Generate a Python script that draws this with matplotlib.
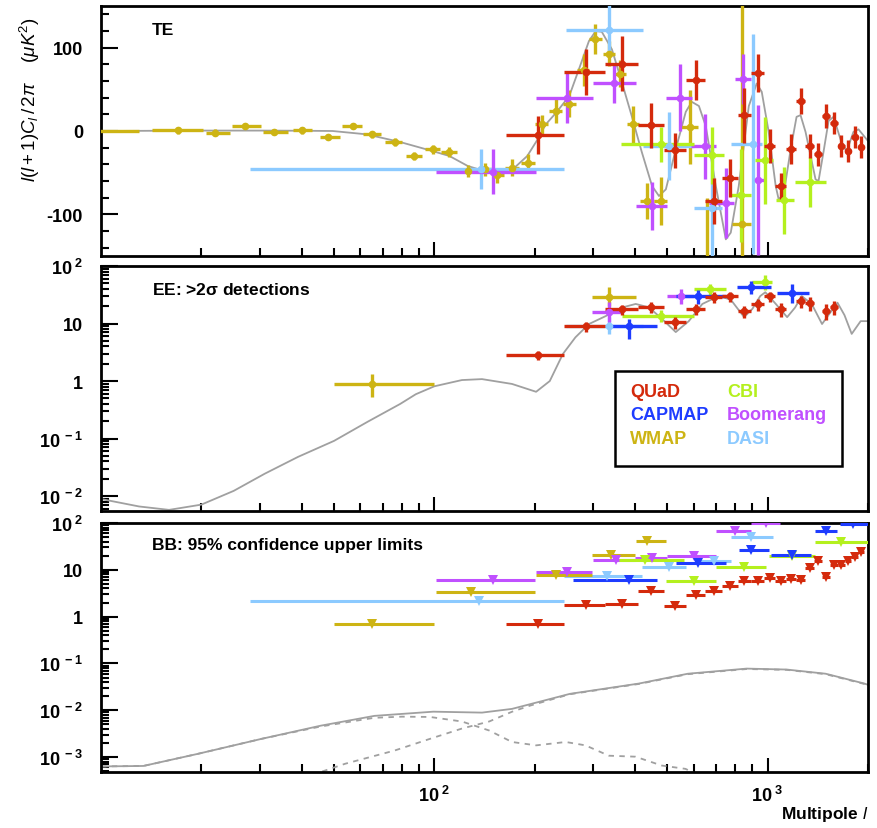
import numpy as np
import matplotlib
matplotlib.use("Agg")
import matplotlib.pyplot as plt
from matplotlib.ticker import FixedLocator, FixedFormatter, NullFormatter
from matplotlib.patches import Rectangle

plt.rcParams['font.family'] = ['Liberation Sans', 'DejaVu Sans']
plt.rcParams['mathtext.fontset'] = 'custom'
plt.rcParams['mathtext.rm'] = 'Liberation Sans'
plt.rcParams['mathtext.it'] = 'Liberation Sans:italic'
plt.rcParams['mathtext.bf'] = 'Liberation Sans:bold'

# ---------------------------------------------------------------- colours
C_QUAD = '#d42a0c'
C_CAPMAP = '#1e3cff'
C_WMAP = '#cdb414'
C_CBI = '#b4f01e'
C_BOOM = '#c050ff'
C_DASI = '#8ccaff'
C_THEORY = '#a0a0a0'

# ---------------------------------------------------------------- QUaD bins
quad_l = [204, 285, 366, 447, 528, 609, 690, 771, 852, 933, 1014, 1095, 1176,
          1257, 1338, 1419, 1500, 1581, 1662, 1743, 1824, 1905]
quad_lo = [164, 245, 326, 407, 488, 569, 650, 731, 812, 893, 974, 1055, 1136,
           1217, 1298, 1379, 1460, 1541, 1622, 1703, 1784, 1865]
quad_hi = [245, 326, 407, 488, 569, 650, 731, 812, 893, 974, 1055, 1136, 1217,
           1298, 1379, 1460, 1541, 1622, 1703, 1784, 1865, 1946]

# ---------------------------------------------------------------- TE data
te_quad = [-5, 71, 81, 7, -23, 61, -84, -56, 19, 70, -18, -66, -22, 36, -18,
           -28, 18, 10, -18, -24, -7, -19]
te_quad_err = [23, 28, 33, 27, 21, 24, 28, 23, 33, 23, 20, 16, 18, 16, 14, 14,
               14, 13, 13, 13, 13, 13]

te_wmap_l = [8, 17, 22, 27, 33, 40, 48, 57, 65, 76, 87, 99, 111, 126, 142, 154,
             171, 191, 210, 232, 254, 281, 303, 334, 361, 394, 434, 478, 583,
             658, 836]
te_wmap_lo = [2, 14.2, 20.7, 24.8, 30.6, 37.6, 45.3, 53, 61, 71, 82, 94, 105,
              119, 135, 149, 163, 182, 201, 221, 243, 268, 292, 320, 348, 378,
              415, 457, 545, 620, 780]
te_wmap_hi = [13, 20.2, 24.3, 30.3, 36.3, 43.1, 52, 60.7, 69, 80, 92, 104, 117,
              133, 149, 162, 180, 200, 220, 242, 266, 292, 318, 348, 376, 412,
              455, 500, 620, 700, 890]
te_wmap = [0, 1, -2, 6, -1, 1, -7, 6, -4, -13, -30, -22, -25, -48, -46, -53,
           -44, -38, 8, 24, 33, 73, 111, 93, 69, 8, -84, -84, 5, -190, -112]
te_wmap_err = [4, 4, 4, 4, 4, 4, 4, 4, 4, 5, 5, 5, 6, 7, 8, 9, 10, 10, 11, 14,
               16, 19, 18, 15, 16, 22, 22, 29, 44, 110, 270]

te_boom_l = [150, 250, 347, 450, 545, 648, 750, 845, 935]
te_boom_lo = [101, 202, 300, 402, 497, 590, 665, 800, 915]
te_boom_hi = [202, 300, 402, 500, 592, 700, 790, 890, 990]
te_boom = [-49, 40, 58, -90, 40, -18, -86, 62, -59]
te_boom_err = [27, 30, 24, 29, 40, 39, 42, 30, 90]

te_dasi_l = [138, 334, 505, 680, 905]
te_dasi_lo = [28, 248, 422, 600, 775]
te_dasi_hi = [245, 422, 600, 730, 960]
te_dasi = [-46, 121, -18, -92, -16]
te_dasi_err = [24, 30, 41, 75, 132]

te_cbi_l = [480, 680, 830, 980, 1120, 1340]
te_cbi_lo = [363, 600, 770, 915, 1060, 1210]
te_cbi_hi = [600, 740, 890, 1040, 1200, 1500]
te_cbi = [-16, -29, -77, -35, -83, -61]
te_cbi_err = [21, 34, 56, 52, 40, 30]

# TE model spectrum
te_th_l = [10, 20, 30, 40, 49.5, 62.6, 78.6, 98.6, 111, 126, 141, 156, 174,
           190, 202, 216, 232, 254, 272, 291, 305, 318, 341, 365, 391, 419,
           450, 472, 495, 530, 568, 592, 622, 652, 699, 749, 775, 819, 878,
           927, 960, 1007, 1057, 1079, 1117, 1172, 1221, 1255, 1299, 1392,
           1421, 1471, 1523, 1576, 1654, 1724, 1809, 1873, 2000]
te_th = [0, 0.5, 0.5, 0.3, 0, -4, -13, -24, -30, -42, -48, -48.5, -44, -30,
         -13, 8, 22, 42, 75, 108, 120, 119, 98, 59, 18, -25, -66, -78, -70,
         -22, 23, 35, 30, 6, -66, -130, -122, -66, 30, 57, 47, -1, -66, -82,
         -76, -22, 17, 19, -1, -58, -60, -25, 12, 17, -10, -25, -1, 2, -12]

# ---------------------------------------------------------------- EE data
ee_quad_l = [204, 285, 366, 447, 528, 609, 690, 771, 852, 933, 1014, 1095,
             1257, 1338, 1500, 1581]
ee_quad_lo = [164, 245, 326, 407, 488, 569, 650, 731, 812, 893, 974, 1055,
              1217, 1298, 1460, 1541]
ee_quad_hi = [245, 326, 407, 488, 569, 650, 731, 812, 893, 974, 1055, 1136,
              1298, 1379, 1541, 1622]
ee_quad = [2.8, 9.0, 17.8, 19.2, 10.5, 17.8, 28.7, 30, 16.5, 21.8, 30, 17.8,
           24.5, 22.5, 16.5, 19.2]
ee_quad_elo = [0.5, 1.8, 3.5, 4, 2.5, 4, 6, 6, 4, 5, 6, 5, 6, 6, 5, 5]
ee_quad_ehi = [0.5, 1.8, 3.5, 4, 2.5, 4, 6, 6, 4, 5, 6, 5, 6, 6, 5, 5]

ee_wmap_l = [65, 334]
ee_wmap_lo = [50, 297]
ee_wmap_hi = [100, 402]
ee_wmap = [0.9, 29]
ee_wmap_elo = [0.37, 9]
ee_wmap_ehi = [0.42, 14]

ee_boom_l = [334, 550]
ee_boom_lo = [297, 500]
ee_boom_hi = [365, 600]
ee_boom = [15.8, 30]
ee_boom_elo = [5.3, 8]
ee_boom_ehi = [7.7, 10]

ee_dasi_l = [334]
ee_dasi_lo = [248]
ee_dasi_hi = [422]
ee_dasi = [9.0]
ee_dasi_elo = [2.4]
ee_dasi_ehi = [3.9]

ee_capmap_l = [384, 617, 890, 1180]
ee_capmap_lo = [340, 530, 810, 1070]
ee_capmap_hi = [465, 750, 1020, 1330]
ee_capmap = [9.0, 30, 42.7, 33.7]
ee_capmap_elo = [3.6, 8, 10, 11]
ee_capmap_ehi = [3, 9, 12, 14]

ee_cbi_l = [478, 670, 980]
ee_cbi_lo = [365, 600, 900]
ee_cbi_hi = [600, 750, 1030]
ee_cbi = [13.5, 39.6, 52]
ee_cbi_elo = [3, 8, 14]
ee_cbi_ehi = [3.5, 10, 18]

# EE model spectrum
ee_th_l = [10, 13, 16, 20, 25, 31, 39, 50, 63, 79, 88, 100, 121, 139, 171,
           202, 222, 243, 265, 291, 327, 366, 402, 441, 482, 530, 580, 637,
           713, 775, 850, 900, 950, 984, 1057, 1144, 1209, 1265, 1355, 1456,
           1547, 1620, 1700, 1787, 1901, 2000]
ee_th = [8.9e-3, 6.6e-3, 5.75e-3, 7.1e-3, 1.23e-2, 2.45e-2, 4.8e-2, 9.1e-2,
         0.195, 0.40, 0.59, 0.81, 1.04, 1.08, 0.89, 0.65, 1.0, 2.95, 5.75,
         9.8, 13.5, 19, 21.9, 19, 12, 7.1, 11, 21.9, 30, 26, 12.9, 18, 30,
         35, 22, 12.9, 19, 30, 22, 9.8, 16, 23, 14, 6.6, 11, 11]

# ---------------------------------------------------------------- BB limits
bb_quad = [0.71, 1.8, 1.9, 3.6, 1.65, 2.95, 3.6, 4.6, 5.9, 5.9, 6.8, 5.9, 6.5,
           6.2, 11.2, 15.7, 7.1, 12.9, 12.9, 15.7, 19, 24.5]

bb_wmap_l = [65, 129, 232, 340, 434]
bb_wmap_lo = [50, 101, 202, 297, 403]
bb_wmap_hi = [100, 200, 297, 400, 497]
bb_wmap = [0.71, 3.4, 7.9, 21, 42]

bb_boom_l = [150, 250, 350, 450, 600, 800, 990]
bb_boom_lo = [101, 202, 300, 400, 500, 700, 890]
bb_boom_hi = [200, 297, 400, 500, 700, 890, 1090]
bb_boom = [6.2, 9.2, 16, 18, 20, 69, 98]

bb_dasi_l = [136, 330, 505, 690, 890]
bb_dasi_lo = [28, 245, 420, 620, 775]
bb_dasi_hi = [245, 420, 570, 775, 1040]
bb_dasi = [2.2, 7.5, 11.7, 15.7, 51]

bb_capmap_l = [384, 620, 890, 1180, 1494, 1800]
bb_capmap_lo = [260, 530, 820, 1020, 1390, 1650]
bb_capmap_hi = [465, 750, 1010, 1350, 1615, 2000]
bb_capmap = [6.2, 14.2, 26, 20.5, 67, 97]

bb_cbi_l = [430, 600, 847, 1180, 1660]
bb_cbi_lo = [358, 495, 700, 1010, 1390]
bb_cbi_hi = [560, 700, 990, 1390, 2100]
bb_cbi = [16, 5.9, 11.7, 20, 40]

# BB model spectra: total, tensor part, lensing part
bb_tot_l = [10, 13.4, 19.5, 30.3, 45.6, 66.1, 99.3, 139, 171, 255, 411, 576,
            865, 1140, 1493, 1950, 2000]
bb_tot = [6.31e-4, 6.46e-4, 1.17e-3, 2.45e-3, 4.68e-3, 7.59e-3, 9.33e-3,
          8.91e-3, 1.07e-2, 2.24e-2, 3.72e-2, 6.03e-2, 7.76e-2, 7.41e-2,
          6.03e-2, 3.72e-2, 3.5e-2]
bb_ten_l = [10, 13.4, 19.5, 30.3, 45.6, 66, 80, 97, 121, 146, 171, 202, 248,
            284, 334, 401, 481, 567, 650]
bb_ten = [6.31e-4, 6.46e-4, 1.17e-3, 2.45e-3, 4.5e-3, 6.9e-3, 7.3e-3, 7.2e-3,
          5.75e-3, 3.7e-3, 2.1e-3, 1.78e-3, 2.1e-3, 1.78e-3, 1.07e-3, 1.02e-3,
          6.6e-4, 5.6e-4, 3.5e-4]
bb_len_l = [40, 54, 76, 97, 121, 146, 171, 194, 255, 411, 576, 865, 1140,
            1493, 1950, 2000]
bb_len = [3.5e-4, 7.2e-4, 1.38e-3, 2.45e-3, 4.07e-3, 5.75e-3, 9.3e-3, 1.26e-2,
          2.2e-2, 3.65e-2, 5.9e-2, 7.6e-2, 7.3e-2, 5.9e-2, 3.65e-2, 3.4e-2]

legend_names = ['QUaD', 'CAPMAP', 'WMAP', 'CBI', 'Boomerang', 'DASI']
legend_colors = [C_QUAD, C_CAPMAP, C_WMAP, C_CBI, C_BOOM, C_DASI]

# ---------------------------------------------------------------- figure
W, H = 878, 829
fig = plt.figure(figsize=(W / 100, H / 100), dpi=100)
left = 101 / W
width = (868 - 101) / W


def panel(top_px, bot_px):
    return fig.add_axes([left, 1 - bot_px / H, width, (bot_px - top_px) / H])


ax_te = panel(7, 257)
ax_ee = panel(267, 512)
ax_bb = panel(524, 773)

XMIN, XMAX = 10, 2000
x_major = [100, 1000]
x_minor = [20, 30, 40, 50, 60, 70, 80, 90, 200, 300, 400, 500, 600, 700, 800,
           900, 2000]


def style(ax):
    ax.set_xscale('log')
    ax.set_xlim(XMIN, XMAX)
    for s in ax.spines.values():
        s.set_linewidth(2.0)
    ax.xaxis.set_major_locator(FixedLocator(x_major))
    ax.xaxis.set_minor_locator(FixedLocator(x_minor))
    ax.xaxis.set_minor_formatter(NullFormatter())
    ax.tick_params(which='both', direction='in', top=False, right=False,
                   width=1.5, colors='black')
    ax.tick_params(axis='x', which='major', length=10)
    ax.tick_params(axis='x', which='minor', length=5.5)
    ax.tick_params(axis='y', which='major', length=12, pad=13, labelsize=13)
    ax.tick_params(axis='y', which='minor', length=6)
    ax.tick_params(axis='x', labelsize=13, pad=9)
    for lab in ax.get_yticklabels() + ax.get_xticklabels():
        lab.set_fontweight('bold')


def log_y(ax, lo, hi, decades):
    ax.set_yscale('log')
    ax.set_ylim(lo, hi)
    ax.yaxis.set_major_locator(FixedLocator([10.0 ** d for d in decades]))
    labels = []
    for d in decades:
        if d == 0:
            labels.append('1')
        elif d == 1:
            labels.append('10')
        else:
            labels.append(r'$\mathbf{10^{\ %d}}$' % d)
    ax.yaxis.set_major_formatter(FixedFormatter(labels))
    minors = [m * 10.0 ** d for d in range(-4, 2) for m in range(2, 10)]
    ax.yaxis.set_minor_locator(FixedLocator(minors))
    ax.yaxis.set_minor_formatter(NullFormatter())


def points(ax, l, lo, hi, val, color, yerr=None, marker='o', ms=5.5, lw=2.4):
    l = np.asarray(l, dtype=float)
    xerr = [l - np.asarray(lo, dtype=float), np.asarray(hi, dtype=float) - l]
    ax.errorbar(l, val, xerr=xerr, yerr=yerr, fmt=marker, color=color,
                ms=ms, elinewidth=lw, capsize=0, markeredgewidth=0,
                zorder=3)


def bold_ticks(ax):
    for lab in ax.get_yticklabels() + ax.get_xticklabels():
        lab.set_fontweight('bold')


# ------------------------------------------------ TE
style(ax_te)
ax_te.set_ylim(-150, 150)
ax_te.yaxis.set_major_locator(FixedLocator([-100, 0, 100]))
ax_te.yaxis.set_major_formatter(FixedFormatter(['-100', '0', '100']))
ax_te.yaxis.set_minor_locator(FixedLocator(list(range(-140, 150, 20))))
ax_te.set_xticklabels([])
ax_te.plot(te_th_l, te_th, color=C_THEORY, lw=1.3, zorder=2)
points(ax_te, te_wmap_l, te_wmap_lo, te_wmap_hi, te_wmap, C_WMAP, te_wmap_err)
points(ax_te, te_dasi_l, te_dasi_lo, te_dasi_hi, te_dasi, C_DASI, te_dasi_err)
points(ax_te, te_boom_l, te_boom_lo, te_boom_hi, te_boom, C_BOOM, te_boom_err)
points(ax_te, te_cbi_l, te_cbi_lo, te_cbi_hi, te_cbi, C_CBI, te_cbi_err)
points(ax_te, quad_l, quad_lo, quad_hi, te_quad, C_QUAD, te_quad_err)
ax_te.text(0.0665, 0.905, 'TE', transform=ax_te.transAxes, fontsize=12.5,
           fontweight='bold', va='center', ha='left')
bold_ticks(ax_te)

# ------------------------------------------------ EE
style(ax_ee)
log_y(ax_ee, 5.5e-3, 100, [-2, -1, 0, 1, 2])
ax_ee.set_xticklabels([])
ax_ee.plot(ee_th_l, ee_th, color=C_THEORY, lw=1.3, zorder=2)
points(ax_ee, ee_wmap_l, ee_wmap_lo, ee_wmap_hi, ee_wmap, C_WMAP,
       [ee_wmap_elo, ee_wmap_ehi])
points(ax_ee, ee_dasi_l, ee_dasi_lo, ee_dasi_hi, ee_dasi, C_DASI,
       [ee_dasi_elo, ee_dasi_ehi])
points(ax_ee, ee_boom_l, ee_boom_lo, ee_boom_hi, ee_boom, C_BOOM,
       [ee_boom_elo, ee_boom_ehi])
points(ax_ee, ee_cbi_l, ee_cbi_lo, ee_cbi_hi, ee_cbi, C_CBI,
       [ee_cbi_elo, ee_cbi_ehi])
points(ax_ee, ee_capmap_l, ee_capmap_lo, ee_capmap_hi, ee_capmap, C_CAPMAP,
       [ee_capmap_elo, ee_capmap_ehi])
points(ax_ee, ee_quad_l, ee_quad_lo, ee_quad_hi, ee_quad, C_QUAD,
       [ee_quad_elo, ee_quad_ehi])
ax_ee.text(0.0665, 0.905, r'EE: >2$\mathbf{\sigma}$ detections',
           transform=ax_ee.transAxes, fontsize=12.5, fontweight='bold',
           va='center', ha='left')
bold_ticks(ax_ee)

# legend box with coloured names
ax_ee.add_patch(Rectangle((0.670, 0.184), 0.296, 0.387,
                          transform=ax_ee.transAxes, fill=False,
                          edgecolor='black', lw=1.8, zorder=5))
col_x = [0.690, 0.690, 0.690, 0.816, 0.816, 0.816]
row_y = [0.486, 0.392, 0.294, 0.486, 0.392, 0.294]
for name, c, xx, yy in zip(legend_names, legend_colors, col_x, row_y):
    ax_ee.text(xx, yy, name, color=c, fontsize=13, fontweight='bold',
               transform=ax_ee.transAxes, va='center', ha='left', zorder=6)

# ------------------------------------------------ BB
style(ax_bb)
log_y(ax_bb, 4.8e-4, 100, [-3, -2, -1, 0, 1, 2])
ax_bb.set_xticklabels([r'$\mathbf{10^{\ 2}}$', r'$\mathbf{10^{\ 3}}$'])
ax_bb.plot(bb_tot_l, bb_tot, color=C_THEORY, lw=1.3, zorder=2)
ax_bb.plot(bb_ten_l, bb_ten, color=C_THEORY, lw=1.3, ls=(0, (3, 3)), zorder=2)
ax_bb.plot(bb_len_l, bb_len, color=C_THEORY, lw=1.3, ls=(0, (3, 3)), zorder=2)
tri = dict(marker='v', ms=7, lw=2.2)
points(ax_bb, bb_dasi_l, bb_dasi_lo, bb_dasi_hi, bb_dasi, C_DASI, **tri)
points(ax_bb, bb_wmap_l, bb_wmap_lo, bb_wmap_hi, bb_wmap, C_WMAP, **tri)
points(ax_bb, bb_boom_l, bb_boom_lo, bb_boom_hi, bb_boom, C_BOOM, **tri)
points(ax_bb, bb_cbi_l, bb_cbi_lo, bb_cbi_hi, bb_cbi, C_CBI, **tri)
points(ax_bb, bb_capmap_l, bb_capmap_lo, bb_capmap_hi, bb_capmap, C_CAPMAP,
       **tri)
points(ax_bb, quad_l, quad_lo, quad_hi, bb_quad, C_QUAD, **tri)
ax_bb.text(0.0665, 0.912, 'BB: 95% confidence upper limits',
           transform=ax_bb.transAxes, fontsize=12.5, fontweight='bold',
           va='center', ha='left')
bold_ticks(ax_bb)

# axis titles
fig.text(0.034, 1 - 100 / H, r'$l(l+1)C_{l}\,/\,2\pi$    $(\mu K^{2})$',
         rotation=90, fontsize=13.5, ha='center', va='center')
fig.text(868 / W, 1 - 815 / H, r'Multipole $\mathbf{\mathit{l}}$',
         fontsize=12.5, fontweight='bold', ha='right', va='center')

fig.savefig('out.png', dpi=100)
